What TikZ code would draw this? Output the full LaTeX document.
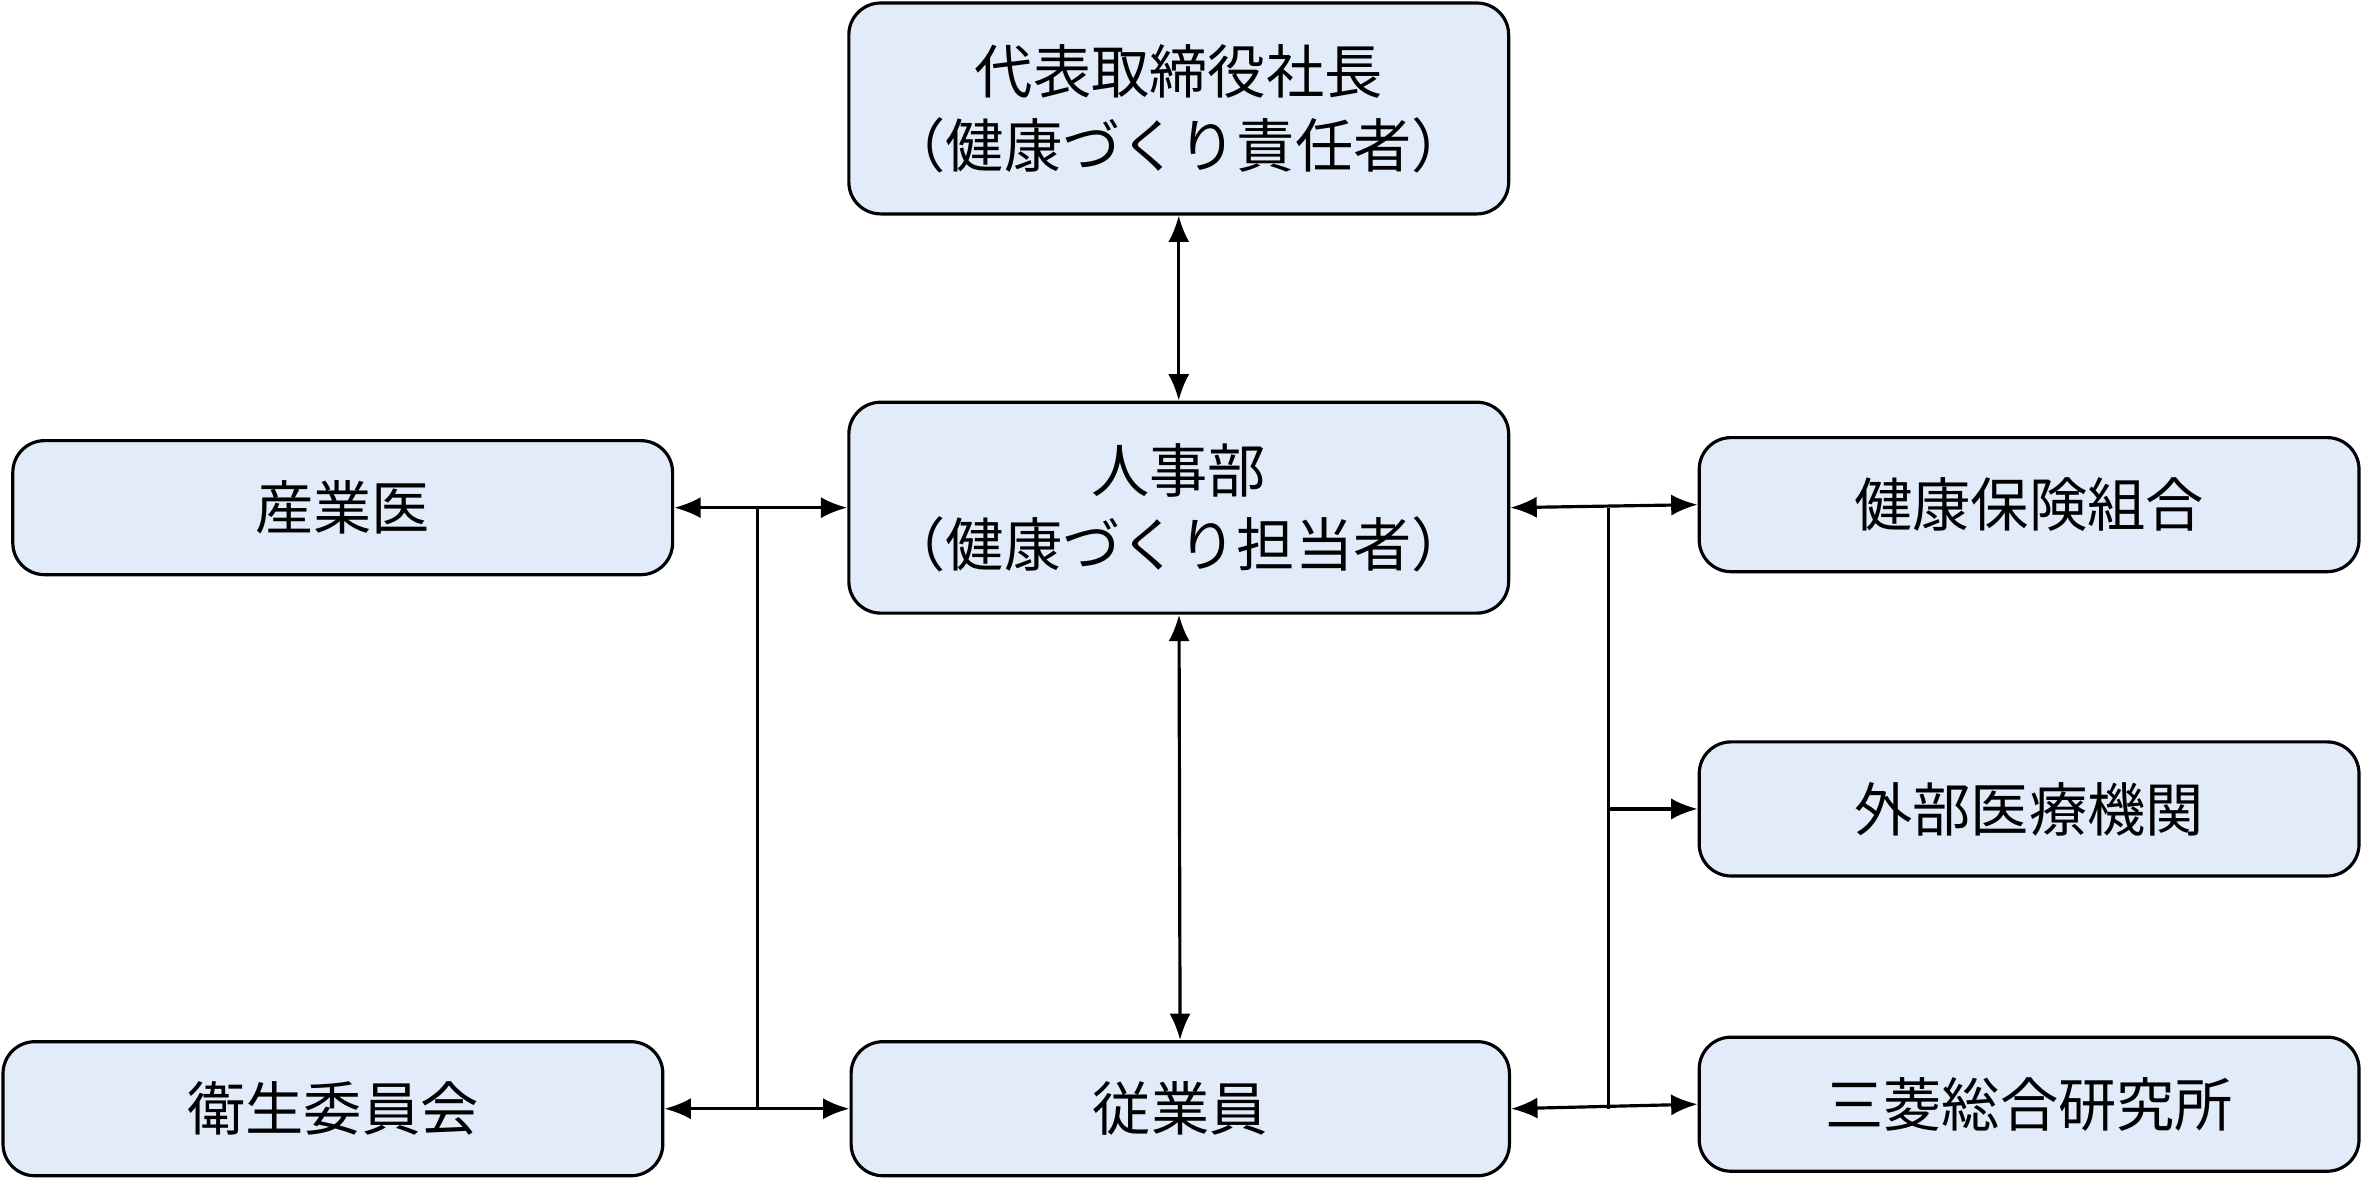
\documentclass[tikz,border=0pt]{standalone}
\usepackage{fontspec}
\setmainfont{Noto Sans CJK JP}
\usetikzlibrary{arrows.meta}
\definecolor{boxfill}{HTML}{E1EBFA}
\begin{document}
\begin{tikzpicture}[x=1cm,y=1cm,
  box/.style={draw, fill=boxfill, rounded corners=6pt, line width=0.6pt,
    minimum width=4.38cm, align=center, font=\fontsize{11}{14}\selectfont, inner sep=0pt},
  big/.style={box, minimum height=1.40cm},
  small/.style={box, minimum height=0.89cm},
  link/.style={line width=0.6pt, {Latex[length=5pt,width=4pt]}-{Latex[length=5pt,width=4pt]}},
  to/.style={line width=0.6pt, -{Latex[length=5pt,width=4pt]}}]
  \useasboundingbox (0,0) rectangle (15.68,7.84);
  \node[big] (ceo) at (7.825,7.12) {代表取締役社長\\（健康づくり責任者）};
  \node[big] (hr) at (7.825,4.47) {人事部\\（健康づくり担当者）};
  \node[small] (doc) at (2.275,4.47) {産業医};
  \node[small] (comm) at (2.21,0.48) {衛生委員会};
  \node[small, minimum width=4.37cm] (staff) at (7.835,0.48) {従業員};
  \node[small] (kenpo) at (13.47,4.49) {健康保険組合};
  \node[small] (med) at (13.47,2.47) {外部医療機関};
  \node[small] (mri) at (13.47,0.51) {三菱総合研究所};
  \draw[link] (ceo) -- (hr);
  \draw[link] (hr) -- (staff);
  \draw[link] (doc.east) -- (hr.west);
  \draw[link] (comm.east) -- (staff.west);
  \draw[line width=0.6pt] (5.03,4.47) -- (5.03,0.48);
  \draw[link] (hr.east) -- (kenpo.west);
  \draw[link] (staff.east) -- (mri.west);
  \draw[line width=0.6pt] (10.68,4.47) -- (10.68,0.48);
  \draw[to] (10.68,2.47) -- (med.west);
\end{tikzpicture}
\end{document}
